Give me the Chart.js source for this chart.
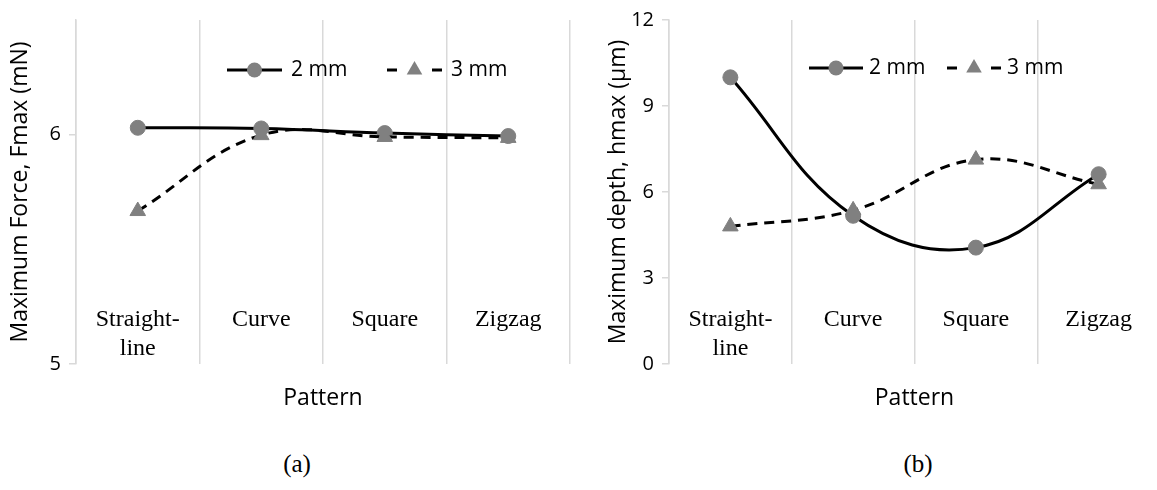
<!DOCTYPE html>
<html>
<head>
<meta charset="utf-8">
<script src="https://cdn.jsdelivr.net/npm/chart.js@4.4.1/dist/chart.umd.min.js"></script>
<style>
  html, body { margin: 0; padding: 0; background: #fff; overflow: hidden; }
  body { width: 1157px; height: 490px; position: relative; }
  .panel { position: absolute; top: 0; height: 420px; }
  #panelA { left: 0; width: 580px; }
  #panelB { left: 580px; width: 590px; }
  .caption { position: absolute; top: 450px; font: 25px "Liberation Serif", serif; color: #000; transform: translateX(-50%); }
</style>
</head>
<body>
<div class="panel" id="panelA"><canvas id="forceChart"></canvas></div>
<div class="panel" id="panelB"><canvas id="depthChart"></canvas></div>
<div class="caption" style="left:297px">(a)</div>
<div class="caption" style="left:918px">(b)</div>
<script>
// categories and series
var patterns = [['Straight-', 'line'], 'Curve', 'Square', 'Zigzag'];
var seriesNames = ['2 mm', '3 mm'];

// (a) maximum force, mN
var forceTwoMm = [6.03, 6.027, 6.007, 5.994];
var forceThreeMm = [5.667, 5.998, 5.99, 5.986];
var forceTicks = [5, 6];

// (b) maximum depth, µm
var depthTwoMm = [10.0, 5.17, 4.06, 6.62];
var depthThreeMm = [4.8, 5.36, 7.13, 6.27];
var depthTicks = [0, 3, 6, 9, 12];

Chart.defaults.font.family = '"Open Sans", sans-serif';
Chart.defaults.color = '#000';

var GRID = '#d9d9d9';
var MARKER = '#808080';

// legend drawn as a short line sample with the marker in the middle
var lineLegend = {
    id: 'lineLegend',
    afterDraw: function (chart, args, opts) {
        var ctx = chart.ctx;
        var area = chart.chartArea;
        var y = area.top + opts.y;
        ctx.save();
        chart.data.datasets.forEach(function (ds, i) {
            var x0 = area.left + opts.x[i];
            var x1 = x0 + opts.lineLength;
            var xm = (x0 + x1) / 2;
            ctx.strokeStyle = ds.borderColor;
            ctx.lineWidth = ds.borderWidth;
            ctx.setLineDash([]);
            ctx.beginPath();
            if (ds.borderDash) {
                var d = ds.borderDash[0];
                ctx.moveTo(x0, y); ctx.lineTo(x0 + d, y);
                ctx.moveTo(x1 - d, y); ctx.lineTo(x1, y);
            } else {
                ctx.moveTo(x0, y); ctx.lineTo(x1, y);
            }
            ctx.stroke();

            var r = ds.pointRadius;
            ctx.fillStyle = ds.pointBackgroundColor;
            ctx.beginPath();
            if (ds.pointStyle === 'triangle') {
                ctx.moveTo(xm, y - r);
                ctx.lineTo(xm + r * Math.sin(2 * Math.PI / 3), y + r / 2);
                ctx.lineTo(xm - r * Math.sin(2 * Math.PI / 3), y + r / 2);
                ctx.closePath();
            } else {
                ctx.arc(xm, y, r, 0, Math.PI * 2);
            }
            ctx.fill();

            ctx.fillStyle = '#000';
            ctx.font = opts.fontSize + 'px "Open Sans", sans-serif';
            ctx.textAlign = 'left';
            ctx.textBaseline = 'middle';
            ctx.fillText(ds.label, x1 + opts.textGap, y);
        });
        ctx.restore();
    }
};

function buildChart(canvasId, cfg) {
    var canvas = document.getElementById(canvasId);
    return new Chart(canvas.getContext('2d'), {
        type: 'line',
        data: {
            labels: patterns,
            datasets: [{
                label: seriesNames[0],
                data: cfg.twoMm,
                borderColor: '#000',
                borderWidth: 3,
                tension: 0.4,
                pointStyle: 'circle',
                pointRadius: 7.5,
                pointBackgroundColor: MARKER,
                pointBorderColor: MARKER,
                pointBorderWidth: 1,
                order: 1
            }, {
                label: seriesNames[1],
                data: cfg.threeMm,
                borderColor: '#000',
                borderWidth: 3,
                borderDash: [10, 7],
                tension: 0.4,
                pointStyle: 'triangle',
                pointRadius: 9,
                pointBackgroundColor: MARKER,
                pointBorderColor: MARKER,
                pointBorderWidth: 1,
                order: 0
            }]
        },
        options: {
            responsive: true,
            maintainAspectRatio: false,
            animation: false,
            events: [],
            layout: { padding: { left: 0, right: cfg.padRight, top: 18, bottom: 0 } },
            plugins: {
                legend: { display: false },
                tooltip: { enabled: false },
                lineLegend: cfg.legend
            },
            scales: {
                x: {
                    offset: true,
                    grid: { offset: true, color: GRID, lineWidth: 1.5, drawTicks: false },
                    border: { display: false },
                    ticks: {
                        font: { family: '"Liberation Serif", serif', size: 24, lineHeight: 1.2 },
                        color: '#000',
                        // labels sit inside the plot, just above the bottom edge
                        mirror: true,
                        padding: 30,
                        maxRotation: 0,
                        autoSkip: false
                    },
                    title: {
                        display: true,
                        text: 'Pattern',
                        font: { size: 23 },
                        padding: { top: 0, bottom: 8 }
                    },
                    afterFit: function (scale) { scale.height = 56; }
                },
                y: {
                    min: cfg.min,
                    max: cfg.max,
                    afterBuildTicks: function (scale) {
                        scale.ticks = cfg.ticks.map(function (v) { return { value: v }; });
                    },
                    grid: { drawOnChartArea: false, tickLength: 7, color: GRID, lineWidth: 1.5 },
                    border: { color: GRID, width: 1.5 },
                    ticks: { font: { size: 20 }, color: '#000', padding: 8 },
                    title: {
                        display: true,
                        text: cfg.yTitle,
                        font: { size: 23 },
                        padding: { top: cfg.titlePad, bottom: 0 }
                    },
                    afterFit: function (scale) { scale.width = cfg.axisWidth; }
                }
            }
        },
        plugins: [lineLegend]
    });
}

buildChart('forceChart', {
    twoMm: forceTwoMm,
    threeMm: forceThreeMm,
    min: 5,
    max: 6.5,
    ticks: forceTicks,
    yTitle: 'Maximum Force, Fmax (mN)',
    axisWidth: 76,
    titlePad: 7,
    padRight: 4,
    legend: { x: [151, 311], y: 50, lineLength: 55, textGap: 9, fontSize: 21 }
});

buildChart('depthChart', {
    twoMm: depthTwoMm,
    threeMm: depthThreeMm,
    min: 0,
    max: 12,
    ticks: depthTicks,
    yTitle: 'Maximum depth, hmax (\u03bcm)',
    axisWidth: 89,
    titlePad: 25,
    padRight: 9,
    legend: { x: [140, 278], y: 48, lineLength: 54, textGap: 6, fontSize: 21 }
});
</script>
</body>
</html>
